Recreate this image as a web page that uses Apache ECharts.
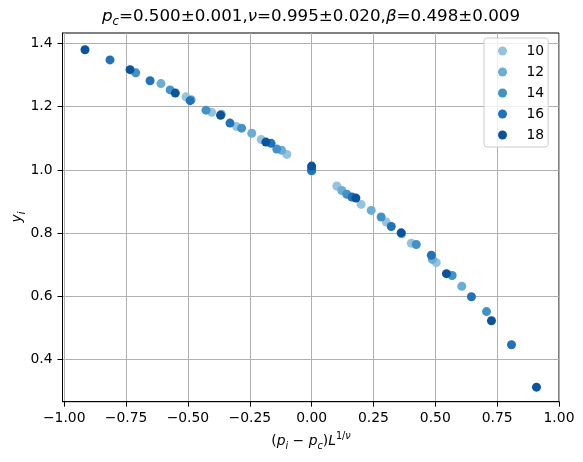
<!DOCTYPE html>
<html>
<head>
<meta charset="utf-8" />
<title>Scaling collapse</title>
<script src="https://cdn.jsdelivr.net/npm/echarts@6/dist/echarts.min.js"></script>
<style>
  html, body { margin: 0; padding: 0; background: #fff; }
  #main { width: 583px; height: 462px; }
</style>
</head>
<body>
<div id="main"></div>
<script type="text/javascript">
// system sizes L and their colours (Blues)
var sizeNames = ['10', '12', '14', '16', '18'];
var sizeColors = ['#93c3df', '#6aadd5', '#4292c6', '#2172b6', '#0a549e'];

// rescaled x = (p_i - p_c) L^{1/nu}, and y_i
var xL10 = [-0.508, -0.404, -0.303, -0.204, -0.100, 0.000, 0.102, 0.200, 0.302, 0.403, 0.504];
var yL10 = [1.231, 1.182, 1.137, 1.096, 1.049, 0.996, 0.949, 0.891, 0.835, 0.768, 0.707];
var xL12 = [-0.609, -0.487, -0.365, -0.242, -0.121, 0.000, 0.122, 0.241, 0.364, 0.488, 0.607];
var yL12 = [1.273, 1.222, 1.176, 1.116, 1.062, 1.002, 0.935, 0.872, 0.798, 0.717, 0.632];
var xL14 = [-0.711, -0.572, -0.427, -0.283, -0.141, 0.000, 0.142, 0.281, 0.423, 0.568, 0.707];
var yL14 = [1.307, 1.253, 1.189, 1.132, 1.066, 1.005, 0.923, 0.851, 0.764, 0.666, 0.552];
var xL16 = [-0.815, -0.653, -0.491, -0.330, -0.164, 0.000, 0.163, 0.322, 0.484, 0.646, 0.808];
var yL16 = [1.348, 1.282, 1.219, 1.148, 1.084, 0.998, 0.914, 0.821, 0.730, 0.599, 0.447];
var xL18 = [-0.916, -0.734, -0.551, -0.368, -0.185, 0.000, 0.179, 0.362, 0.545, 0.727, 0.909];
var yL18 = [1.380, 1.317, 1.243, 1.173, 1.088, 1.012, 0.911, 0.801, 0.672, 0.523, 0.313];

// tick positions
var xTicks = [-1.0, -0.75, -0.5, -0.25, 0.0, 0.25, 0.5, 0.75, 1.0];
var yTicks = [0.4, 0.6, 0.8, 1.0, 1.2, 1.4];

var xs = [xL10, xL12, xL14, xL16, xL18];
var ys = [yL10, yL12, yL14, yL16, yL18];

var FONT = 'DejaVu Sans';
var minus = function (s) { return s.replace('-', '\u2212'); };

var series = [];
for (var k = 0; k < sizeNames.length; k++) {
    var pts = [];
    for (var i = 0; i < xs[k].length; i++) {
        pts.push([xs[k][i], ys[k][i]]);
    }
    series.push({
        name: sizeNames[k],
        type: 'scatter',
        symbolSize: 9,
        itemStyle: { color: sizeColors[k], opacity: 1 },
        emphasis: { disabled: true },
        data: pts
    });
}

var myChart = echarts.init(document.getElementById('main'), null, { renderer: 'canvas' });
myChart.setOption({
    animation: false,
    color: sizeColors,
    grid: {
        left: 62.5, right: 24, top: 33, bottom: 60.3,
        show: true, borderColor: '#000', borderWidth: 1, backgroundColor: 'transparent'
    },
    legend: {
        orient: 'vertical',
        left: 484, top: 38,
        padding: [6, 4, 5, 14],
        itemWidth: 38, itemHeight: 9, itemGap: 7,
        icon: 'circle',
        borderColor: '#cccccc', borderWidth: 1, borderRadius: 3,
        backgroundColor: 'rgba(255,255,255,0.8)',
        textStyle: { fontFamily: FONT, fontSize: 13.9, color: '#000', lineHeight: 14 },
        data: sizeNames
    },
    xAxis: {
        type: 'value',
        min: -1.007, max: 1.0,
        axisLine: { show: true, onZero: false, lineStyle: { color: '#000', width: 1 } },
        axisTick: { show: true, customValues: xTicks, length: 5, lineStyle: { color: '#000', width: 1 } },
        axisLabel: {
            customValues: xTicks, margin: 10,
            fontFamily: FONT, fontSize: 13.9, color: '#000',
            formatter: function (v) { return minus(v.toFixed(2)); }
        },
        splitLine: { show: true, lineStyle: { color: '#b0b0b0', width: 1 } }
    },
    yAxis: {
        type: 'value',
        min: 0.267, max: 1.433,
        axisLine: { show: true, onZero: false, lineStyle: { color: '#000', width: 1 } },
        axisTick: { show: true, customValues: yTicks, length: 5, lineStyle: { color: '#000', width: 1 } },
        axisLabel: {
            customValues: yTicks, margin: 10,
            fontFamily: FONT, fontSize: 13.9, color: '#000',
            formatter: function (v) { return v.toFixed(1); }
        },
        splitLine: { show: true, lineStyle: { color: '#b0b0b0', width: 1 } }
    },
    graphic: [
        {   // title
            type: 'text', x: 311, y: 17, z: 10,
            style: {
                text: '{i|p}{s|c}=0.500\u00b10.001,{i|\u03bd}=0.995\u00b10.020,{i|\u03b2}=0.498\u00b10.009',
                fill: '#000', fontFamily: FONT, fontSize: 16.7, lineHeight: 22,
                align: 'center', verticalAlign: 'middle',
                rich: {
                    i: { fontFamily: FONT, fontStyle: 'italic', fontSize: 16.7, lineHeight: 22, fill: '#000' },
                    s: { fontFamily: FONT, fontStyle: 'italic', fontSize: 11.7, lineHeight: 11, verticalAlign: 'bottom', fill: '#000' }
                }
            }
        },
        {   // x axis label
            type: 'text', x: 311, y: 441, z: 10,
            style: {
                text: '({i|p}{s|i} \u2212 {i|p}{s|c}){i|L}{p|1/}{pi|\u03bd}',
                fill: '#000', fontFamily: FONT, fontSize: 13.9, lineHeight: 20,
                align: 'center', verticalAlign: 'middle',
                rich: {
                    i: { fontFamily: FONT, fontStyle: 'italic', fontSize: 13.9, lineHeight: 20, fill: '#000' },
                    s: { fontFamily: FONT, fontStyle: 'italic', fontSize: 9.7, lineHeight: 10, verticalAlign: 'bottom', fill: '#000' },
                    p: { fontFamily: FONT, fontSize: 9.7, lineHeight: 10, verticalAlign: 'top', fill: '#000' },
                    pi: { fontFamily: FONT, fontStyle: 'italic', fontSize: 9.7, lineHeight: 10, verticalAlign: 'top', fill: '#000' }
                }
            }
        },
        {   // y axis label
            type: 'text', x: 17, y: 217, rotation: Math.PI / 2, z: 10,
            style: {
                text: '{i|y}{s|i}',
                fill: '#000', fontFamily: FONT, fontSize: 13.9, lineHeight: 20,
                align: 'center', verticalAlign: 'middle',
                rich: {
                    i: { fontFamily: FONT, fontStyle: 'italic', fontSize: 13.9, lineHeight: 20, fill: '#000' },
                    s: { fontFamily: FONT, fontStyle: 'italic', fontSize: 9.7, lineHeight: 10, verticalAlign: 'bottom', fill: '#000' }
                }
            }
        }
    ],
    series: series
});
</script>
</body>
</html>
